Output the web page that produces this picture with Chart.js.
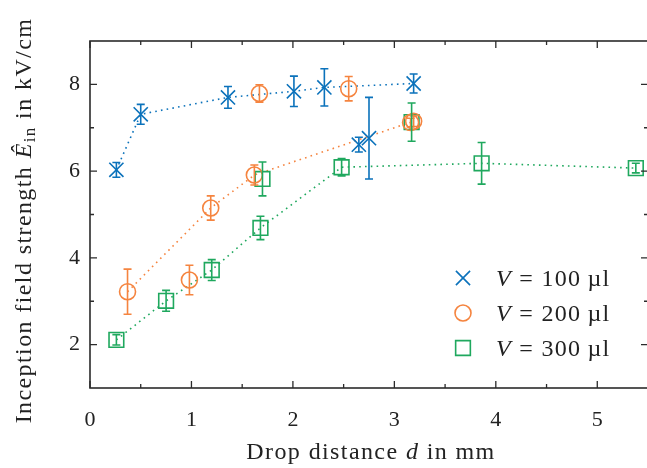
<!DOCTYPE html>
<html>
<head>
<meta charset="utf-8">
<script src="https://cdn.jsdelivr.net/npm/chart.js@4.4.1/dist/chart.umd.min.js"></script>
<style>
  html, body { margin: 0; padding: 0; background: #fff; overflow: hidden; }
  #wrap { width: 660px; height: 468px; }
</style>
</head>
<body>
<div id="wrap"><canvas id="chart" width="660" height="468"></canvas></div>
<script>
// axis ticks
const xTicks = [0, 1, 2, 3, 4, 5];
const xMinor = [0.5, 1.5, 2.5, 3.5, 4.5];
const yTicks = [2, 4, 6, 8];
const yMinor = [3, 5, 7];

// V = 100 ul, points joined by the dotted line
const x100 = [0.26, 0.50, 1.36, 2.01, 2.31, 3.19];
const y100 = [6.03, 7.31, 7.70, 7.84, 7.93, 8.02];
const e100 = [0.17, 0.23, 0.25, 0.35, 0.43, 0.22];
// V = 100 ul, loose points
const x100b = [2.65, 2.75];
const y100b = [6.61, 6.76];
const e100b = [0.17, 0.94];

// V = 200 ul
const x200 = [0.37, 1.19, 1.62, 3.19];
const y200 = [3.22, 5.15, 5.91, 7.15];
const e200 = [0.52, 0.28, 0.23, 0.12];
const x200b = [0.98, 1.67, 2.55, 3.16];
const y200b = [3.49, 7.79, 7.90, 7.12];
const e200b = [0.34, 0.20, 0.28, 0.10];

// V = 300 ul
const x300 = [0.26, 0.75, 1.20, 1.68, 2.48, 3.86, 5.38];
const y300 = [2.11, 3.01, 3.72, 4.69, 6.09, 6.18, 6.07];
const e300 = [0.12, 0.24, 0.24, 0.27, 0.20, 0.48, 0.11];
const x300b = [1.70, 3.17];
const y300b = [5.82, 7.13];
const e300b = [0.39, 0.44];

const labels = ["100", "200", "300"];

const BLUE = "#0b72bb";
const ORANGE = "#f5843f";
const GREEN = "#1fa85e";
const AXIS = "#2b2b2b";
const FONT = '"Liberation Serif", serif';

const pts = (xs, ys) => xs.map((x, i) => ({ x, y: ys[i] }));

function lineSet(xs, ys, color) {
  return {
    data: pts(xs, ys),
    showLine: true,
    borderColor: color,
    borderWidth: 1.6,
    borderDash: [1.6, 4.2],
    pointRadius: 0,
    fill: false,
    order: 3
  };
}

function markSet(xs, ys, errs, color, style, r) {
  return {
    data: pts(xs, ys),
    errs: errs,
    showLine: false,
    borderColor: color,
    backgroundColor: "rgba(0,0,0,0)",
    pointStyle: style,
    pointRadius: r,
    pointHoverRadius: r,
    pointBorderWidth: 1.6,
    order: 1
  };
}

const datasets = [
  lineSet(x100, y100, BLUE),
  lineSet(x200, y200, ORANGE),
  lineSet(x300, y300, GREEN),
  markSet(x100.concat(x100b), y100.concat(y100b), e100.concat(e100b), BLUE, "crossRot", 10),
  markSet(x200.concat(x200b), y200.concat(y200b), e200.concat(e200b), ORANGE, "circle", 8),
  markSet(x300.concat(x300b), y300.concat(y300b), e300.concat(e300b), GREEN, "rect", 10.4)
];

// error bars, drawn with the chart's own scales
const errorBars = {
  id: "errorBars",
  afterDatasetsDraw(chart) {
    const { ctx, scales: { x, y } } = chart;
    ctx.save();
    ctx.lineWidth = 1.6;
    chart.data.datasets.forEach(ds => {
      if (!ds.errs) return;
      ctx.strokeStyle = ds.borderColor;
      ds.data.forEach((p, i) => {
        const px = x.getPixelForValue(p.x);
        const top = y.getPixelForValue(p.y + ds.errs[i]);
        const bot = y.getPixelForValue(p.y - ds.errs[i]);
        ctx.beginPath();
        ctx.moveTo(px, top); ctx.lineTo(px, bot);
        ctx.moveTo(px - 4, top); ctx.lineTo(px + 4, top);
        ctx.moveTo(px - 4, bot); ctx.lineTo(px + 4, bot);
        ctx.stroke();
      });
    });
    ctx.restore();
  }
};

// box and inward ticks
const frame = {
  id: "frame",
  afterDraw(chart) {
    const { ctx, chartArea: a, scales: { x, y } } = chart;
    ctx.save();
    ctx.strokeStyle = AXIS;
    ctx.lineWidth = 1.6;
    ctx.strokeRect(a.left, a.top, a.right - a.left, a.bottom - a.top);
    ctx.lineWidth = 1.3;
    ctx.beginPath();
    const xt = (v, len) => {
      const px = x.getPixelForValue(v);
      ctx.moveTo(px, a.bottom); ctx.lineTo(px, a.bottom - len);
      ctx.moveTo(px, a.top); ctx.lineTo(px, a.top + len);
    };
    const yt = (v, len) => {
      const py = y.getPixelForValue(v);
      ctx.moveTo(a.left, py); ctx.lineTo(a.left + len, py);
      ctx.moveTo(a.right, py); ctx.lineTo(a.right - len, py);
    };
    xTicks.forEach(v => xt(v, 7));
    xMinor.forEach(v => xt(v, 4));
    yTicks.forEach(v => yt(v, 7));
    yMinor.forEach(v => yt(v, 4));
    ctx.stroke();
    ctx.restore();
  }
};

// axis titles and legend with italic symbols
function drawRuns(ctx, runs, x, y, align, gap) {
  gap = gap || 0;
  const width = r => { ctx.font = r.font; return ctx.measureText(r.t).width + gap * r.t.length; };
  const w = runs.reduce((s, r) => s + width(r), 0);
  let cx = align === "center" ? x - w / 2 : x;
  runs.forEach(r => {
    ctx.font = r.font;
    for (const ch of r.t) {
      ctx.fillText(ch, cx, y + (r.dy || 0));
      cx += ctx.measureText(ch).width + gap;
    }
  });
}

const texts = {
  id: "texts",
  afterDraw(chart) {
    const { ctx, chartArea: a } = chart;
    const N = "24px " + FONT, I = "italic 24px " + FONT, S = "17px " + FONT;
    ctx.save();
    ctx.fillStyle = "#222";
    ctx.textBaseline = "alphabetic";
    ctx.textAlign = "left";

    drawRuns(ctx, [
      { t: "Drop distance ", font: N },
      { t: "d", font: I },
      { t: " in mm", font: N }
    ], (a.left + a.right) / 2 + 2, 459, "center", 1.4);

    ctx.translate(31, (a.top + a.bottom) / 2 + 6);
    ctx.rotate(-Math.PI / 2);
    drawRuns(ctx, [
      { t: "Inception field strength ", font: N },
      { t: "\u00CA", font: I },
      { t: "in", font: S, dy: 4 },
      { t: " in kV/cm", font: N }
    ], 0, 0, "center", 1.4);
    ctx.restore();

    // legend
    const marks = chart.data.datasets.filter(d => d.errs);
    ctx.save();
    marks.forEach((ds, i) => {
      const ly = 278 + i * 35;
      ctx.strokeStyle = ds.borderColor;
      ctx.fillStyle = "rgba(0,0,0,0)";
      ctx.lineWidth = 1.6;
      Chart.helpers.drawPoint(ctx, {
        pointStyle: ds.pointStyle, rotation: 0,
        radius: ds.pointRadius, borderWidth: 1.6
      }, 463, ly);
      ctx.fillStyle = "#222";
      drawRuns(ctx, [
        { t: "V", font: I },
        { t: " = " + labels[i] + "\u2009\u00B5l", font: N }
      ], 496, ly + 8, "left", 1.3);
    });
    ctx.restore();
  }
};

function build() {
  new Chart(document.getElementById("chart"), {
    type: "scatter",
    data: { datasets },
    options: {
      responsive: false,
      animation: false,
      layout: { padding: { top: 41, right: 9, left: 0, bottom: 0 } },
      plugins: { legend: { display: false }, tooltip: { enabled: false } },
      scales: {
        x: {
          type: "linear", min: 0, max: 5.5,
          grid: { display: false, drawTicks: false },
          border: { display: false },
          afterBuildTicks: s => { s.ticks = xTicks.map(v => ({ value: v })); },
          afterFit: s => { s.height = 80; },
          ticks: { color: "#222", font: { family: FONT, size: 22 }, padding: 19, maxRotation: 0 }
        },
        y: {
          type: "linear", min: 1, max: 9,
          grid: { display: false, drawTicks: false },
          border: { display: false },
          afterBuildTicks: s => { s.ticks = yTicks.map(v => ({ value: v })); },
          afterFit: s => { s.width = 90; },
          ticks: { color: "#222", font: { family: FONT, size: 22 }, padding: 10 }
        }
      }
    },
    plugins: [errorBars, frame, texts]
  });
}

Promise.all([
  document.fonts.load('24px "Liberation Serif"'),
  document.fonts.load('italic 24px "Liberation Serif"')
]).then(build, build);
</script>
</body>
</html>
